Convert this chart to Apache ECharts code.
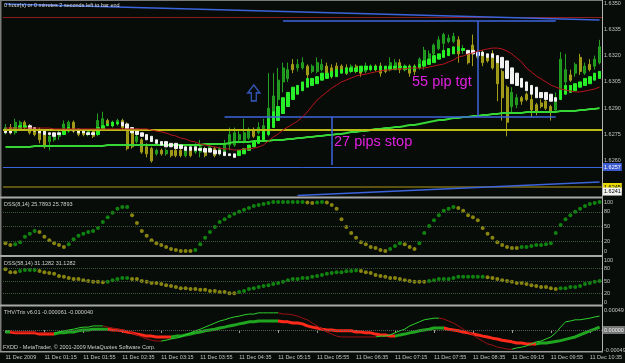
<!DOCTYPE html>
<html>
<head>
<meta charset="utf-8">
<script src="https://cdn.jsdelivr.net/npm/echarts@6/dist/echarts.min.js"></script>
<style>
html, body { margin: 0; padding: 0; background: #080c08; }
#chart { width: 625px; height: 363px; }
</style>
</head>
<body>
<div id="chart"></div>
<script>
// M5 bars, 11 Dec 2009
var times = ['00:35','00:40','00:45','00:50','00:55',
  '01:00','01:05','01:10','01:15','01:20','01:25','01:30','01:35','01:40','01:45','01:50','01:55',
  '02:00','02:05','02:10','02:15','02:20','02:25','02:30','02:35','02:40','02:45','02:50','02:55',
  '03:00','03:05','03:10','03:15','03:20','03:25','03:30','03:35','03:40','03:45','03:50','03:55',
  '04:00','04:05','04:10','04:15','04:20','04:25','04:30','04:35','04:40','04:45','04:50','04:55',
  '05:00','05:05','05:10','05:15','05:20','05:25','05:30','05:35','05:40','05:45','05:50','05:55',
  '06:00','06:05','06:10','06:15','06:20','06:25','06:30','06:35','06:40','06:45','06:50','06:55',
  '07:00','07:05','07:10','07:15','07:20','07:25','07:30','07:35','07:40','07:45','07:50','07:55',
  '08:00','08:05','08:10','08:15','08:20','08:25','08:30','08:35','08:40','08:45','08:50','08:55',
  '09:00','09:05','09:10','09:15','09:20','09:25','09:30','09:35','09:40','09:45','09:50','09:55',
  '10:00','10:05','10:10','10:15','10:20','10:25','10:30','10:35','10:40','10:45'];
var tickLabels = ['11 Dec 2009','11 Dec 01:15','11 Dec 01:55','11 Dec 02:35','11 Dec 03:15','11 Dec 03:55',
  '11 Dec 04:35','11 Dec 05:15','11 Dec 05:55','11 Dec 06:35','11 Dec 07:15','11 Dec 07:55',
  '11 Dec 08:35','11 Dec 09:15','11 Dec 09:55','11 Dec 10:35'];

var opens = [1.6277,1.6279,1.6276,1.6279,1.6282,1.6280,1.6278,1.6277,1.6275,1.6271,
  1.6272,1.6274,1.6276,1.6277,1.6282,1.6278,1.6277,1.6275,1.6277,1.6275,
  1.6280,1.6283,1.6280,1.6282,1.6283,1.6281,1.6277,1.6271,1.6272,1.6268,
  1.6267,1.6264,1.6266,1.6264,1.6266,1.6266,1.6266,1.6263,1.6266,1.6265,
  1.6265,1.6267,1.6266,1.6267,1.6264,1.6265,1.6269,1.6269,1.6272,1.6271,
  1.6273,1.6277,1.6276,1.6277,1.6278,1.6288,1.6295,1.6305,1.6307,1.6315,
  1.6313,1.6313,1.6314,1.6311,1.6311,1.6312,1.6314,1.6313,1.6314,1.6314,
  1.6313,1.6311,1.6314,1.6312,1.6311,1.6312,1.6314,1.6314,1.6312,1.6312,
  1.6314,1.6316,1.6312,1.6314,1.6313,1.6314,1.6316,1.6316,1.6321,1.6324,
  1.6327,1.6328,1.6328,1.6329,1.6323,1.6322,1.6326,1.6322,1.6321,1.6319,
  1.6321,1.6318,1.6311,1.6302,1.6291,1.6292,1.6296,1.6298,1.6295,1.6292,
  1.6293,1.6294,1.6291,1.6289,1.6296,1.6305,1.6309,1.6310,1.6319,1.6310,
  1.6315,1.6314,1.6316];
var closes = [1.6279,1.6276,1.6282,1.6282,1.6279,1.6276,1.6275,1.6272,1.6268,1.6274,
  1.6275,1.6276,1.6281,1.6282,1.6278,1.6275,1.6275,1.6277,1.6274,1.6283,
  1.6284,1.6281,1.6282,1.6283,1.6279,1.6267,1.6268,1.6274,1.6265,1.6264,
  1.6260,1.6266,1.6264,1.6266,1.6263,1.6263,1.6263,1.6266,1.6263,1.6268,
  1.6268,1.6263,1.6268,1.6263,1.6267,1.6270,1.6275,1.6276,1.6275,1.6276,
  1.6278,1.6274,1.6279,1.6280,1.6290,1.6297,1.6306,1.6313,1.6312,1.6312,
  1.6315,1.6316,1.6309,1.6314,1.6316,1.6315,1.6310,1.6309,1.6311,1.6311,
  1.6310,1.6314,1.6311,1.6310,1.6314,1.6314,1.6312,1.6310,1.6311,1.6316,
  1.6316,1.6312,1.6314,1.6310,1.6311,1.6318,1.6323,1.6321,1.6326,1.6329,
  1.6332,1.6330,1.6331,1.6321,1.6324,1.6316,1.6322,1.6319,1.6316,1.6317,
  1.6313,1.6304,1.6296,1.6282,1.6299,1.6296,1.6294,1.6295,1.6289,1.6288,
  1.6291,1.6290,1.6288,1.6296,1.6318,1.6312,1.6306,1.6315,1.6311,1.6314,
  1.6312,1.6318,1.6325];
var lows = [1.6275,1.6275,1.6275,1.6278,1.6278,1.6275,1.6274,1.6270,1.6267,1.6266,
  1.6271,1.6272,1.6275,1.6276,1.6276,1.6274,1.6274,1.6274,1.6273,1.6274,
  1.6279,1.6280,1.6279,1.6280,1.6278,1.6266,1.6267,1.6270,1.6264,1.6262,
  1.6259,1.6263,1.6263,1.6263,1.6262,1.6262,1.6262,1.6262,1.6262,1.6264,
  1.6262,1.6262,1.6265,1.6262,1.6263,1.6264,1.6266,1.6268,1.6270,1.6270,
  1.6272,1.6273,1.6275,1.6276,1.6274,1.6284,1.6291,1.6299,1.6305,1.6310,
  1.6311,1.6312,1.6307,1.6310,1.6310,1.6311,1.6308,1.6307,1.6310,1.6310,
  1.6309,1.6310,1.6310,1.6308,1.6310,1.6311,1.6311,1.6308,1.6310,1.6311,
  1.6313,1.6310,1.6311,1.6308,1.6309,1.6312,1.6312,1.6315,1.6320,1.6323,
  1.6321,1.6327,1.6327,1.6316,1.6321,1.6315,1.6314,1.6318,1.6314,1.6316,
  1.6312,1.6294,1.6283,1.6274,1.6287,1.6290,1.6292,1.6294,1.6285,1.6286,
  1.6290,1.6289,1.6283,1.6288,1.6295,1.6302,1.6305,1.6308,1.6309,1.6309,
  1.6311,1.6312,1.6315];
var highs = [1.6281,1.6281,1.6284,1.6283,1.6283,1.6281,1.6279,1.6279,1.6276,1.6275,
  1.6276,1.6278,1.6283,1.6283,1.6283,1.6278,1.6278,1.6278,1.6278,1.6287,
  1.6288,1.6284,1.6283,1.6284,1.6284,1.6282,1.6278,1.6275,1.6273,1.6270,
  1.6268,1.6267,1.6267,1.6267,1.6266,1.6267,1.6269,1.6267,1.6267,1.6270,
  1.6272,1.6268,1.6269,1.6268,1.6268,1.6272,1.6279,1.6279,1.6277,1.6284,
  1.6279,1.6279,1.6282,1.6284,1.6310,1.6310,1.6313,1.6316,1.6316,1.6318,
  1.6318,1.6319,1.6315,1.6315,1.6319,1.6318,1.6316,1.6315,1.6316,1.6315,
  1.6315,1.6315,1.6315,1.6314,1.6316,1.6315,1.6315,1.6316,1.6314,1.6319,
  1.6318,1.6318,1.6315,1.6315,1.6315,1.6319,1.6325,1.6323,1.6327,1.6331,
  1.6333,1.6332,1.6333,1.6331,1.6326,1.6323,1.6332,1.6323,1.6323,1.6320,
  1.6323,1.6319,1.6312,1.6303,1.6302,1.6298,1.6297,1.6299,1.6302,1.6293,
  1.6295,1.6295,1.6292,1.6299,1.6322,1.6321,1.6312,1.6316,1.6321,1.6316,
  1.6318,1.6320,1.6329];

// heiken ashi bodies
var haOpen = [1.6278,1.6278,1.6277,1.6278,1.6279,1.6280,1.6279,1.6278,1.6277,1.6276,
  1.6276,1.6276,1.6275,1.6277,1.6278,1.6278,1.6277,1.6276,1.6276,1.6275,
  1.6278,1.6280,1.6280,1.6281,1.6282,1.6281,1.6279,1.6278,1.6276,1.6275,
  1.6274,1.6272,1.6271,1.6271,1.6270,1.6270,1.6269,1.6268,1.6268,1.6268,
  1.6267,1.6267,1.6267,1.6266,1.6266,1.6265,1.6264,1.6264,1.6263,1.6264,
  1.6266,1.6268,1.6270,1.6272,1.6275,1.6279,1.6283,1.6287,1.6291,1.6295,
  1.6298,1.6300,1.6302,1.6303,1.6304,1.6306,1.6307,1.6308,1.6308,1.6310,
  1.6310,1.6311,1.6311,1.6311,1.6312,1.6312,1.6312,1.6312,1.6312,1.6312,
  1.6312,1.6313,1.6312,1.6312,1.6312,1.6313,1.6314,1.6315,1.6316,1.6318,
  1.6319,1.6320,1.6321,1.6323,1.6323,1.6323,1.6323,1.6322,1.6322,1.6321,
  1.6321,1.6320,1.6319,1.6317,1.6313,1.6310,1.6307,1.6305,1.6303,1.6302,
  1.6299,1.6299,1.6298,1.6296,1.6295,1.6298,1.6299,1.6300,1.6302,1.6303,
  1.6304,1.6306,1.6307];
var haClose = [1.6276,1.6276,1.6279,1.6280,1.6280,1.6278,1.6277,1.6276,1.6275,1.6275,
  1.6274,1.6275,1.6277,1.6279,1.6277,1.6276,1.6276,1.6275,1.6275,1.6279,
  1.6280,1.6281,1.6282,1.6282,1.6280,1.6278,1.6276,1.6275,1.6274,1.6272,
  1.6271,1.6270,1.6269,1.6268,1.6268,1.6267,1.6267,1.6266,1.6266,1.6266,
  1.6266,1.6265,1.6265,1.6264,1.6264,1.6263,1.6263,1.6262,1.6266,1.6267,
  1.6269,1.6271,1.6274,1.6277,1.6284,1.6288,1.6291,1.6296,1.6299,1.6302,
  1.6303,1.6305,1.6307,1.6307,1.6308,1.6310,1.6310,1.6311,1.6312,1.6312,
  1.6313,1.6313,1.6313,1.6314,1.6314,1.6314,1.6314,1.6314,1.6314,1.6314,
  1.6314,1.6314,1.6314,1.6314,1.6314,1.6315,1.6317,1.6318,1.6320,1.6321,
  1.6323,1.6324,1.6325,1.6325,1.6324,1.6321,1.6321,1.6320,1.6320,1.6319,
  1.6319,1.6316,1.6313,1.6307,1.6304,1.6303,1.6302,1.6300,1.6298,1.6296,
  1.6296,1.6295,1.6294,1.6294,1.6300,1.6303,1.6303,1.6304,1.6305,1.6307,
  1.6308,1.6310,1.6311];

var maFast = [1.62787,1.62787,1.62787,1.62787,1.62787,1.62787,1.62787,1.62787,1.62787,1.62787,
  1.62782,1.62782,1.62782,1.62782,1.62782,1.62782,1.62782,1.62782,1.62782,1.62782,
  1.62782,1.62782,1.62782,1.62782,1.62782,1.62782,1.62782,1.62782,1.62782,1.62782,
  1.62776,1.62770,1.62765,1.62759,1.62748,1.62742,1.62730,1.62725,1.62713,1.62708,
  1.62696,1.62691,1.62685,1.62679,1.62673,1.62668,1.62668,1.62662,1.62662,1.62668,
  1.62668,1.62673,1.62679,1.62691,1.62713,1.62736,1.62753,1.62776,1.62793,1.62810,
  1.62827,1.62850,1.62879,1.62913,1.62947,1.62970,1.62993,1.63015,1.63032,1.63050,
  1.63061,1.63072,1.63084,1.63090,1.63095,1.63101,1.63107,1.63112,1.63118,1.63118,
  1.63124,1.63124,1.63124,1.63129,1.63129,1.63129,1.63129,1.63135,1.63141,1.63147,
  1.63152,1.63164,1.63175,1.63192,1.63198,1.63209,1.63215,1.63226,1.63232,1.63238,
  1.63243,1.63243,1.63238,1.63226,1.63209,1.63186,1.63164,1.63129,1.63107,1.63084,
  1.63067,1.63050,1.63032,1.63021,1.63010,1.63004,1.62998,1.62993,1.62993,1.62998,
  1.63004,1.63010,1.63021];
var maSlow = [1.62679,1.62679,1.62679,1.62679,1.62679,1.62679,1.62685,1.62685,1.62685,1.62685,
  1.62685,1.62685,1.62685,1.62685,1.62685,1.62685,1.62685,1.62685,1.62685,1.62685,
  1.62685,1.62691,1.62691,1.62691,1.62691,1.62691,1.62691,1.62691,1.62691,1.62691,
  1.62691,1.62691,1.62691,1.62691,1.62691,1.62691,1.62691,1.62691,1.62691,1.62691,
  1.62691,1.62696,1.62696,1.62696,1.62696,1.62696,1.62702,1.62708,1.62708,1.62708,
  1.62708,1.62713,1.62713,1.62713,1.62713,1.62719,1.62719,1.62719,1.62725,1.62725,
  1.62730,1.62730,1.62736,1.62736,1.62742,1.62742,1.62748,1.62748,1.62753,1.62753,
  1.62759,1.62765,1.62765,1.62770,1.62770,1.62776,1.62782,1.62782,1.62787,1.62787,
  1.62793,1.62793,1.62799,1.62804,1.62804,1.62810,1.62816,1.62822,1.62827,1.62833,
  1.62833,1.62839,1.62844,1.62844,1.62850,1.62850,1.62856,1.62856,1.62862,1.62862,
  1.62867,1.62867,1.62873,1.62873,1.62873,1.62873,1.62873,1.62879,1.62879,1.62879,
  1.62879,1.62879,1.62879,1.62879,1.62884,1.62884,1.62884,1.62884,1.62890,1.62890,
  1.62896,1.62896,1.62901];

var dssFast = [16,12,14,18,29,35,41,39,29,22,
  16,12,8,14,24,31,35,39,41,47,
  59,69,78,86,90,90,73,57,41,31,
  22,16,12,8,4,2,0,0,0,2,
  14,27,39,49,59,65,71,76,80,84,
  88,92,94,96,98,100,100,100,100,100,
  100,100,99,98,99,100,99,94,86,65,
  49,37,27,18,14,8,6,2,0,4,
  10,16,14,8,4,16,37,51,63,73,
  82,86,90,88,82,73,69,63,47,35,
  27,18,12,8,6,6,8,8,10,12,
  12,14,16,37,53,65,73,80,86,92,
  96,98,100];
var dssSlow = [78,71,71,74,76,76,76,74,71,69,
  67,62,60,57,55,55,52,50,48,48,
  47,48,52,55,57,57,55,55,50,48,
  45,45,43,40,38,36,33,33,31,31,
  29,29,26,26,24,24,21,21,24,26,
  31,33,36,38,40,43,45,48,52,55,
  55,57,57,60,62,64,67,69,71,71,
  73,74,75,74,71,69,64,62,60,57,
  57,55,52,50,48,48,48,50,52,55,
  55,55,57,60,60,60,60,60,60,59,
  57,55,52,50,48,45,45,43,40,38,
  36,36,33,31,33,33,36,36,38,43,
  45,48,50];

var trixMain = [-5e-5,-5e-5,-7e-5,-7e-5,-7e-5,-7e-5,-7e-5,-10e-5,-10e-5,-10e-5,
  -10e-5,-7e-5,-7e-5,-5e-5,-5e-5,-2e-5,0,0,2e-5,2e-5,
  2e-5,2e-5,0,0,-2e-5,-5e-5,-7e-5,-10e-5,-12e-5,-15e-5,
  -15e-5,-17e-5,-17e-5,-17e-5,-17e-5,-15e-5,-15e-5,-12e-5,-10e-5,-7e-5,
  -5e-5,-2e-5,0,2e-5,5e-5,7e-5,10e-5,12e-5,15e-5,17e-5,
  20e-5,20e-5,22e-5,22e-5,22e-5,22e-5,22e-5,20e-5,20e-5,17e-5,
  17e-5,15e-5,10e-5,7e-5,5e-5,2e-5,0,0,-2e-5,-2e-5,
  -2e-5,-2e-5,-5e-5,-5e-5,-7e-5,-7e-5,-10e-5,-12e-5,-12e-5,-15e-5,
  -15e-5,-12e-5,-10e-5,-7e-5,-5e-5,-2e-5,0,2e-5,5e-5,5e-5,
  5e-5,2e-5,0,-2e-5,-5e-5,-7e-5,-10e-5,-12e-5,-15e-5,-17e-5,
  -20e-5,-22e-5,-25e-5,-27e-5,-29e-5,-32e-5,-32e-5,-34e-5,-34e-5,-34e-5,
  -32e-5,-32e-5,-30e-5,-28e-5,-26e-5,-23e-5,-20e-5,-17e-5,-12e-5,-7e-5,
  -2e-5,2e-5,7e-5];
var trixSignal = [-2e-5,-2e-5,-5e-5,-5e-5,-5e-5,-5e-5,-5e-5,-7e-5,-7e-5,-7e-5,
  -7e-5,-5e-5,-2e-5,0,2e-5,5e-5,7e-5,7e-5,10e-5,10e-5,
  10e-5,7e-5,5e-5,2e-5,0,-2e-5,-7e-5,-12e-5,-17e-5,-22e-5,
  -25e-5,-27e-5,-27e-5,-25e-5,-22e-5,-20e-5,-17e-5,-12e-5,-7e-5,-2e-5,
  2e-5,7e-5,12e-5,17e-5,22e-5,25e-5,29e-5,32e-5,34e-5,37e-5,
  39e-5,39e-5,42e-5,42e-5,42e-5,42e-5,42e-5,39e-5,39e-5,37e-5,
  34e-5,29e-5,25e-5,17e-5,10e-5,2e-5,-5e-5,-10e-5,-15e-5,-17e-5,
  -17e-5,-17e-5,-17e-5,-17e-5,-17e-5,-17e-5,-17e-5,-15e-5,-15e-5,-12e-5,
  -7e-5,-2e-5,2e-5,10e-5,15e-5,20e-5,25e-5,27e-5,29e-5,29e-5,
  27e-5,22e-5,17e-5,10e-5,2e-5,-5e-5,-12e-5,-20e-5,-27e-5,-34e-5,
  -37e-5,-42e-5,-44e-5,-47e-5,-47e-5,-44e-5,-42e-5,-39e-5,-34e-5,-29e-5,
  -27e-5,-22e-5,-17e-5,-7e-5,7e-5,20e-5,22e-5,25e-5,25e-5,27e-5,
  29e-5,32e-5,34e-5];

var priceTicks = [1.6350, 1.6335, 1.6320, 1.6305, 1.6290, 1.6275, 1.6260];
var dssTicks = [100, 80, 50, 20, 0];
var dssLevels = [80, 50, 20];
var trixTicks = [0.00049, -0.00049];

// chart objects (price, bar index)
var redLevel = 1.63420;
var yellowLevel = 1.62776;
var blueLevel = 1.62565;
var goldLevel = 1.62451;
var bidLevel = 1.62425;
var topTrend = [[0, 1.63494], [122, 1.63403]];
var lowTrend = [[60, 1.62402], [122, 1.62480]];
var targetTop = [[57, 1.63397], [113, 1.63397]];
var targetVert = [[97, 1.63397], [97, 1.62850]];
var entryLine = [[45, 1.62850], [113, 1.62850]];
var stopVert = [[67, 1.62850], [67, 1.62576]];
var arrowPoint = [[51, 1.62987]];

var AXIS_TXT = '#c4c4c4';
var FONT = 'Liberation Sans';
var BLUE = '#3c64dc';

var candles = opens.map(function (o, i) { return [o, closes[i], lows[i], highs[i]]; });
var haBars = haOpen.map(function (o, i) {
  var c = haClose[i];
  return [o, c, Math.min(o, c), Math.max(o, c)];
});

function dotColors(vals, up, dn) {
  var dir = -1;
  return vals.map(function (v, i) {
    if (i > 0) {
      if (v > vals[i - 1]) dir = 1;
      else if (v < vals[i - 1]) dir = -1;
    }
    return { value: [i, v], itemStyle: { color: dir > 0 ? up : dn } };
  });
}

function dirPieces(vals, up, dn) {
  var pieces = [], from = 0, dir = vals[1] >= vals[0];
  for (var i = 1; i < vals.length; i++) {
    var d = vals[i] > vals[i - 1] ? true : (vals[i] < vals[i - 1] ? false : dir);
    if (d !== dir) {
      pieces.push({ gte: from, lt: i - 1, color: dir ? up : dn });
      from = i - 1;
      dir = d;
    }
  }
  pieces.push({ gte: from, lte: vals.length, color: dir ? up : dn });
  return pieces;
}

function seg(pair, color) {
  return [{ coord: pair[0], lineStyle: { color: color, width: 1.5, type: 'solid' } }, { coord: pair[1] }];
}
function level(v, color, width, box) {
  var item = { yAxis: v, lineStyle: { color: color, width: width, type: 'solid' } };
  if (box) {
    item.label = {
      show: true, position: 'end', distance: 1, formatter: box.text,
      backgroundColor: box.bg, color: box.fg, fontSize: 5.5, fontFamily: FONT, padding: [1, 1]
    };
  }
  return item;
}

function xAx(g, withLabels) {
  return {
    type: 'category', gridIndex: g, data: times, boundaryGap: true,
    axisLine: { show: false },
    axisTick: withLabels ? { show: true, interval: 7, alignWithLabel: true, length: 3, lineStyle: { color: '#9a9a9a' } } : { show: false },
    axisLabel: withLabels ? {
      show: true, interval: 7, align: 'left', margin: 3, fontSize: 5.5, fontFamily: FONT, color: AXIS_TXT,
      hideOverlap: false,
      formatter: function (v, i) { return tickLabels[Math.round(i / 8)]; }
    } : { show: false },
    splitLine: { show: false }
  };
}
function yAx(g, min, max, ticks, fmt) {
  return {
    type: 'value', gridIndex: g, position: 'right', min: min, max: max,
    axisLine: { show: false }, axisTick: { show: false }, splitLine: { show: false },
    axisLabel: { customValues: ticks, formatter: fmt, margin: 2, fontSize: 5.5, fontFamily: FONT, color: AXIS_TXT, hideOverlap: false }
  };
}
function gridAt(top, height) {
  return { left: 3, right: 23, top: top, height: height, containLabel: false, outerBoundsMode: 'none' };
}
function sepRect(y, h, color) {
  return { type: 'rect', silent: true, z: 50, shape: { x: 0, y: y, width: 603, height: h }, style: { fill: color } };
}
function label(x, y, text, size, color) {
  return { type: 'text', left: x, top: y, silent: true, z: 60,
    style: { text: text, fill: color, fontSize: size, fontFamily: FONT } };
}

var chart = echarts.init(document.getElementById('chart'));
var option = {
  backgroundColor: '#080c08',
  animation: false,
  textStyle: { fontFamily: FONT },
  grid: [gridAt(3, 194), gridAt(198, 55), gridAt(257, 47), gridAt(306, 45)],
  xAxis: [xAx(0, false), xAx(1, false), xAx(2, false), xAx(3, true)],
  yAxis: [
    yAx(0, 1.62394, 1.63500, priceTicks, function (v) { return v.toFixed(4); }),
    yAx(1, -4.08, 108.2, dssTicks, function (v) { return String(v); }),
    yAx(2, -4.76, 107.14, dssTicks, function (v) { return String(v); }),
    yAx(3, -0.0005145, 0.000588, trixTicks, function (v) { return v.toFixed(5); })
  ],
  visualMap: [
    { type: 'piecewise', show: false, dimension: 0, seriesIndex: 7, pieces: dirPieces(trixMain, '#1fa51f', '#ff2a1a') },
    { type: 'piecewise', show: false, dimension: 0, seriesIndex: 8, pieces: dirPieces(trixSignal, '#2ccf2c', '#9a0f0f') }
  ],
  series: [
    {
      type: 'candlestick', xAxisIndex: 0, yAxisIndex: 0, data: candles, barWidth: 2.5, z: 2,
      itemStyle: { color: '#1f931d', color0: '#9c9618', borderColor: '#22a020', borderColor0: '#a39d1a', borderWidth: 1 }
    },
    {
      type: 'line', xAxisIndex: 0, yAxisIndex: 0, data: maSlow, symbol: 'none', z: 3,
      lineStyle: { color: '#36d636', width: 2 }
    },
    {
      type: 'candlestick', xAxisIndex: 0, yAxisIndex: 0, data: haBars, barWidth: 3, z: 4,
      itemStyle: { color: '#28f028', color0: '#f2f2f2', borderColor: '#28f028', borderColor0: '#f2f2f2', borderWidth: 1 }
    },
    {
      type: 'line', xAxisIndex: 0, yAxisIndex: 0, data: maFast, symbol: 'none', z: 5,
      lineStyle: { color: '#b8141c', width: 1 },
      markLine: {
        silent: true, symbol: ['none', 'none'], animation: false, precision: 6, label: { show: false },
        data: [
          level(redLevel, '#8c1c1c', 1),
          level(yellowLevel, '#bcbc14', 2),
          level(blueLevel, BLUE, 1, { text: '1.6257', bg: '#3c5ad2', fg: '#ffffff' }),
          level(goldLevel, '#7a6a12', 1.5, { text: '1.6245', bg: '#e8d800', fg: '#000000' }),
          level(bidLevel, 'rgba(0,0,0,0)', 1, { text: '1.6241', bg: '#f2f2f2', fg: '#000000' }),
          seg(topTrend, BLUE),
          seg(lowTrend, BLUE),
          seg(targetTop, BLUE),
          seg(targetVert, BLUE),
          seg(entryLine, BLUE),
          seg(stopVert, BLUE)
        ]
      }
    },
    {
      type: 'scatter', xAxisIndex: 0, yAxisIndex: 0, data: arrowPoint, z: 6,
      symbol: 'path://M6,0 L12,8 L8.5,8 L8.5,16 L3.5,16 L3.5,8 L0,8 Z', symbolSize: [12, 16],
      itemStyle: { color: 'rgba(0,0,0,0)', borderColor: BLUE, borderWidth: 1.5 }
    },
    {
      type: 'scatter', xAxisIndex: 1, yAxisIndex: 1, data: dotColors(dssFast, '#12a012', '#a8a212'),
      symbolSize: 4, z: 3,
      markLine: {
        silent: true, symbol: ['none', 'none'], precision: 6, label: { show: false },
        lineStyle: { color: '#3a5a3a', type: 'dotted', width: 1 },
        data: dssLevels.map(function (v) { return { yAxis: v }; })
      }
    },
    {
      type: 'scatter', xAxisIndex: 2, yAxisIndex: 2, data: dotColors(dssSlow, '#12a012', '#a8a212'),
      symbolSize: 4, z: 3,
      markLine: {
        silent: true, symbol: ['none', 'none'], precision: 6, label: { show: false },
        lineStyle: { color: '#3a5a3a', type: 'dotted', width: 1 },
        data: dssLevels.map(function (v) { return { yAxis: v }; })
      }
    },
    {
      type: 'line', xAxisIndex: 3, yAxisIndex: 3, data: trixMain, symbol: 'none', z: 3,
      lineStyle: { width: 3 },
      markLine: {
        silent: true, symbol: ['none', 'none'], precision: 8,
        data: [{ yAxis: 0, lineStyle: { color: '#5c5c5c', type: 'dotted', width: 1 },
          label: { show: true, position: 'end', distance: 1, formatter: '0.00000', backgroundColor: '#777777',
            color: '#f0f0f0', fontSize: 5.5, fontFamily: FONT, padding: [1, 1] } }]
      }
    },
    {
      type: 'line', xAxisIndex: 3, yAxisIndex: 3, data: trixSignal, symbol: 'none', z: 4,
      lineStyle: { width: 1 }
    }
  ],
  graphic: [
    sepRect(0, 1, '#7a7a7a'),
    { type: 'rect', silent: true, z: 50, shape: { x: 0, y: 0, width: 1.5, height: 352 }, style: { fill: '#7a7a7a' } },
    { type: 'rect', silent: true, z: 50, shape: { x: 602, y: 0, width: 1, height: 352 }, style: { fill: '#b4b4b4' } },
    sepRect(196.5, 2, '#a8a8a8'),
    sepRect(255, 2, '#a8a8a8'),
    sepRect(304.5, 2, '#a8a8a8'),
    sepRect(351, 1.5, '#9a9a9a'),
    label(4, 2, '0 hour(s) or 0 minutes 2 seconds left to bar end', 5.5, '#dcdcdc'),
    label(4, 201, 'DSS(8,14) 25.7893 25.7893', 5.5, '#d0d0d0'),
    label(4, 260, 'DSS(58,14) 31.1282 31.1282', 5.5, '#d0d0d0'),
    label(4, 309, 'THV/Trix v6.01 -0.000061 -0.000040', 5.5, '#d0d0d0'),
    label(3, 344, 'FXDD - MetaTrader, © 2001-2009 MetaQuotes Software Corp.', 5.5, '#d0d0d0'),
    label(412, 74, '55 pip tgt', 14.5, '#e020e0'),
    label(334, 134, '27 pips stop', 14.5, '#e020e0')
  ]
};
chart.setOption(option);
</script>
</body>
</html>
